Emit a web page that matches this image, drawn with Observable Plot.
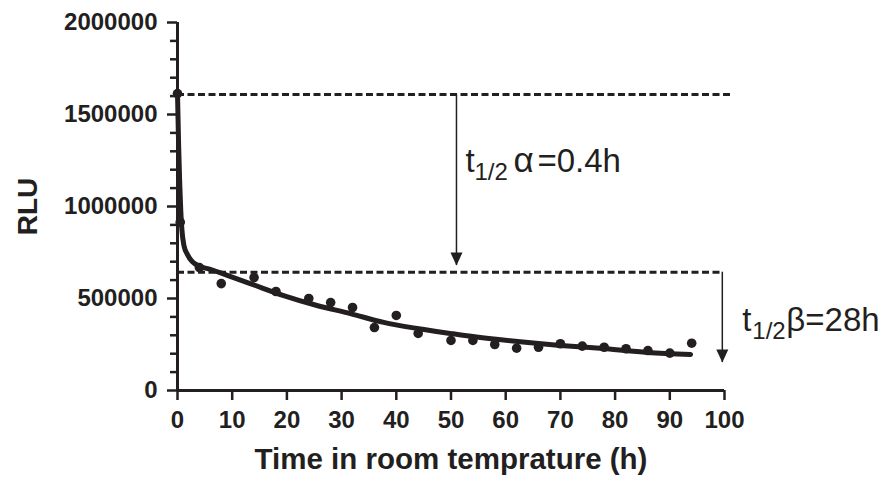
<!DOCTYPE html>
<html>
<head>
<meta charset="utf-8">
<script src="https://cdn.jsdelivr.net/npm/d3@7"></script>
<script src="https://cdn.jsdelivr.net/npm/@observablehq/plot@0.6"></script>
<style>
  html, body { margin: 0; padding: 0; background: #fff; }
  #chart svg { display: block; }
</style>
</head>
<body>
<div id="chart"></div>
<script>
// ---- data ----
const dotTime = [0, 0.5, 4, 8, 14, 18, 24, 28, 32, 36, 40, 44, 50, 54, 58, 62, 66, 70, 74, 78, 82, 86, 90, 94];
const dotRLU  = [1614000, 915000, 668000, 581000, 614000, 538000, 500000, 478000, 451000, 342000, 408000, 310000,
                 272000, 272000, 250000, 230000, 235000, 254000, 241000, 235000, 227000, 217000, 203000, 257000];

const fitTime = [0, 0.2, 0.4, 0.6, 0.8, 1.2, 1.8, 2.7, 4, 6, 10, 13.3, 19.4, 25.5, 31.6, 37.7, 43.8, 49.9, 54, 62.2, 70, 77.9, 85.9, 93.8];
const fitRLU  = [1614000, 1340000, 1130000, 975000, 875000, 785000, 740000, 700000, 676000, 658000, 616000, 581000,
                 516000, 462000, 418000, 370000, 337000, 310000, 293000, 266000, 245000, 228000, 207000, 196000];

const xTicks = [0, 10, 20, 30, 40, 50, 60, 70, 80, 90, 100];
const yTicks = [0, 500000, 1000000, 1500000, 2000000];
const yMinorTicks = [100000, 200000, 300000, 400000, 600000, 700000, 800000, 900000,
                     1100000, 1200000, 1300000, 1400000, 1600000, 1700000, 1800000, 1900000];

// reference (dashed) levels and half-life arrows
const refLevel = [1609000, 643000];
const refEnd   = [101.6, 99.6];
const arrowX    = [51, 99.6];
const arrowFrom = [1609000, 643000];
const arrowTo   = [679000, 152000];
const labelMain  = ["t", "t"];
const labelSub   = ["1/2", "1/2"];
const labelGreek = ["α", "β"];
const labelRest  = ["=0.4h", "=28h"];
const labelBase  = [1186000, 326000];

const xTitle = "Time in room temprature (h)";
const yTitle = "RLU";

// ---- build tables ----
const dots = dotTime.map((t, i) => ({t, v: dotRLU[i]}));
const fit = fitTime.map((t, i) => ({t, v: fitRLU[i]}));
const refs = refLevel.map((v, i) => ({v, end: refEnd[i]}));
const arrows = arrowX.map((x, i) => ({x, from: arrowFrom[i], to: arrowTo[i]}));

const ink = "#231f20";
const font = "'Liberation Sans', Arial, Helvetica, sans-serif";
const downHead = {
  draw(ctx) { ctx.moveTo(0, 0); ctx.lineTo(-6, -13); ctx.lineTo(6, -13); ctx.closePath(); }
};

// label pieces offsets (px) per label
const labelOffsets = [
  {t: 9, sub: 18, greek: 57, greekSize: 35, rest: 81},
  {t: 20, sub: 30, greek: 64, greekSize: 33, rest: 83}
];
const labelMarks = [];
arrowX.forEach((x, i) => {
  const row = [{x, y: labelBase[i]}];
  const o = labelOffsets[i];
  const common = {x: "x", y: "y", textAnchor: "start", lineAnchor: "bottom", fill: ink, fontFamily: font};
  labelMarks.push(
    Plot.text(row, {...common, text: () => labelMain[i], dx: o.t, fontSize: 33}),
    Plot.text(row, {...common, text: () => labelSub[i], dx: o.sub, dy: 8, fontSize: 24}),
    Plot.text(row, {...common, text: () => labelGreek[i], dx: o.greek, fontSize: o.greekSize}),
    Plot.text(row, {...common, text: () => labelRest[i], dx: o.rest, fontSize: 33})
  );
});

const chart = Plot.plot({
  width: 889,
  height: 477,
  marginLeft: 177,
  marginRight: 165,
  marginTop: 22,
  marginBottom: 87,
  x: {domain: [0, 100], label: null},
  y: {domain: [0, 2000000], label: null},
  style: {fontFamily: font, color: ink, background: "white", overflow: "visible"},
  marks: [
    Plot.axisY(yMinorTicks, {tickSize: 7, strokeWidth: 2.5, tickFormat: () => "", label: null}),
    Plot.axisY(yTicks, {tickSize: 10, tickPadding: 10, strokeWidth: 2.5, tickFormat: d3.format("d"),
      fontSize: 24, fontWeight: "bold", label: null}),
    Plot.axisX(xTicks, {tickSize: 10, tickPadding: 10, strokeWidth: 2.5, tickFormat: d3.format("d"),
      fontSize: 24, fontWeight: "bold", label: null}),
    Plot.ruleX([0], {stroke: ink, strokeWidth: 3}),
    Plot.ruleY([0], {stroke: ink, strokeWidth: 3}),
    Plot.ruleY(refs, {y: "v", x1: 0, x2: "end", stroke: ink, strokeWidth: 3, strokeDasharray: "7,3.5"}),
    Plot.ruleX(arrows, {x: "x", y1: "from", y2: "to", stroke: ink, strokeWidth: 1.5}),
    Plot.dot(arrows, {x: "x", y: "to", symbol: downHead, fill: ink, stroke: null}),
    Plot.line(fit, {x: "t", y: "v", curve: "monotone-x", stroke: ink, strokeWidth: 5}),
    Plot.dot(dots, {x: "t", y: "v", r: 4.8, fill: ink, stroke: null}),
    ...labelMarks,
    Plot.text([xTitle], {text: d => d, frameAnchor: "bottom", textAnchor: "middle", dy: 78, lineAnchor: "bottom",
      fontSize: 29.5, fontWeight: "bold", fill: ink}),
    Plot.text([yTitle], {text: d => d, frameAnchor: "left", textAnchor: "middle", dx: -149, rotate: -90,
      fontSize: 28, fontWeight: "bold", fill: ink})
  ]
});
document.getElementById("chart").appendChild(chart);
</script>
</body>
</html>
